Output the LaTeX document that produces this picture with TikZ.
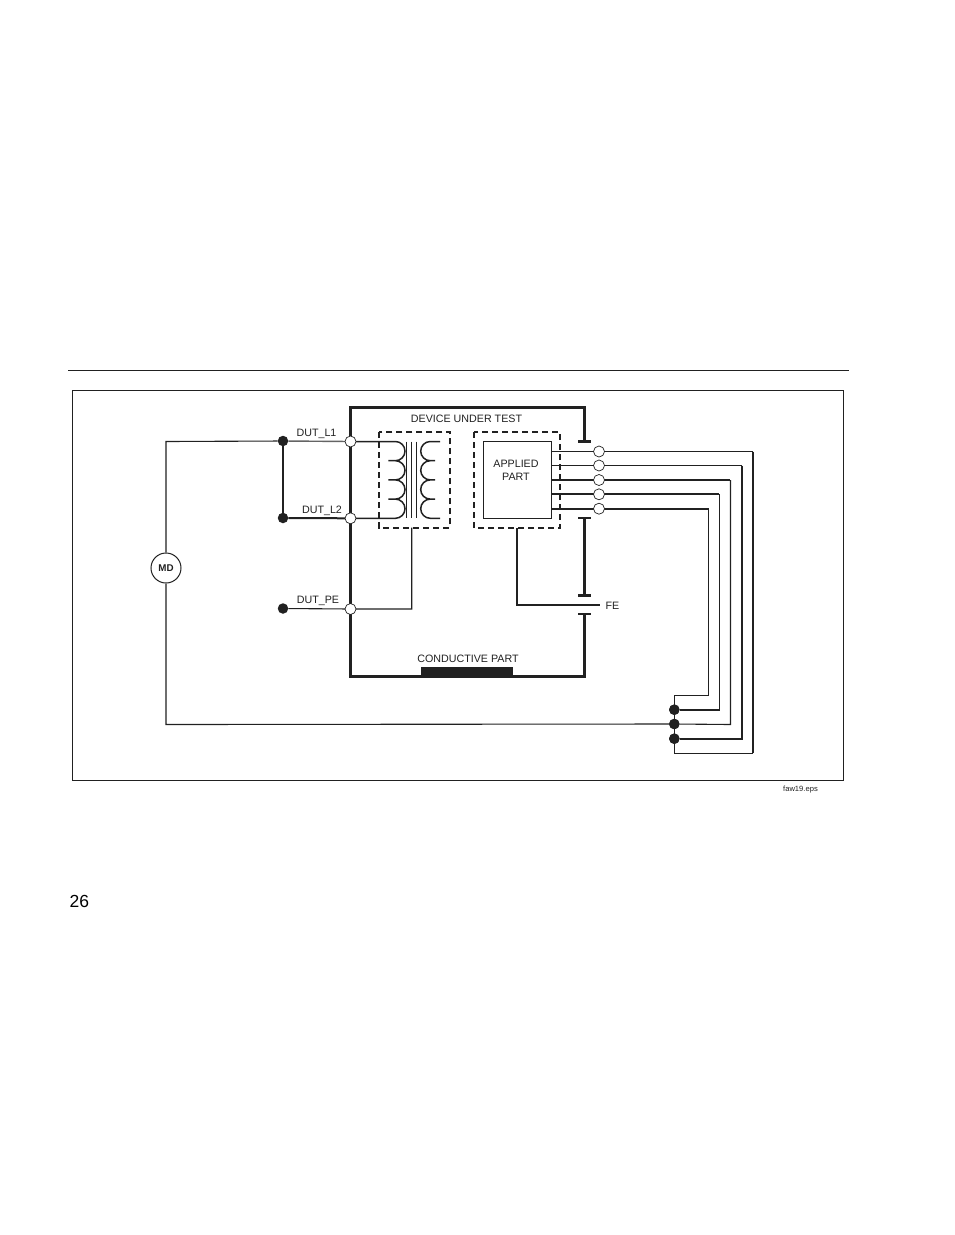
\documentclass[tikz,border=0pt]{standalone}
\usepackage{fontspec}
\setmainfont{Liberation Sans}
\definecolor{ink}{gray}{0.13}
\tikzset{
	lbl/.style={inner sep=0pt,text=ink,font=\fontsize{10.7}{12}\selectfont},
	thinw/.style={draw=ink,line width=1.1pt},
	midw/.style={draw=ink,line width=2pt},
	heavy/.style={draw=ink,line width=3pt},
	opent/.style={circle,draw=ink,fill=white,line width=.7pt,minimum size=11pt,inner sep=0pt},
	solidt/.style={circle,fill=ink,minimum size=10.5pt,inner sep=0pt},
	dashbox/.style={draw=ink,line width=2pt,dash pattern=on 6pt off 4pt}
}
\begin{document}
\begin{tikzpicture}[x=1pt,y=1pt,yscale=-1]
	\useasboundingbox (0,0) rectangle (954,1235);
	% page furniture
	\coordinate (ruleL) at (68,370.5);
	\coordinate (ruleR) at (849,370.5);
	\draw[ink,line width=.9pt] (ruleL) -- (ruleR);
	\draw[ink,line width=.8pt] (72.5,390.5) rectangle (843.5,780.5);
	\node[lbl,anchor=east,font=\fontsize{7.6}{9}\selectfont] (fname) at (818,789.5) {faw19.eps};
	\node[lbl,anchor=west,text=black,font=\fontsize{17.5}{20}\selectfont] (pageno) at (69.5,901.5) {26};
	% device outline
	\coordinate (capA) at (584.5,441.5);
	\coordinate (capB) at (584.5,518);
	\coordinate (capC) at (584.5,595.5);
	\coordinate (capD) at (584.5,614);
	\draw[heavy] (capA) -- (584.5,407.5) -- (350.5,407.5) -- (350.5,676) -- (584.5,676) -- (capD);
	\draw[heavy] (capB) -- (capC);
	\foreach \c in {capA,capB,capC,capD}
		\draw[midw,line width=2.5pt] (\c) ++(-6.5,0) -- ++(13,0);
	\fill[ink] (421,667) rectangle (513,676);
	% boxes
	\draw[dashbox] (379,432) rectangle (450,527.7);
	\draw[dashbox] (474,432) rectangle (560,528);
	\node[draw=ink,line width=1pt,minimum width=68pt,minimum height=77pt,inner sep=0pt] (applied) at (517,479.5) {};
	\node[lbl,align=center,font=\fontsize{10.7}{13}\selectfont] (appliedtxt) at (516,470) {APPLIED\\PART};
	% terminals
	\node[solidt] (sL1) at (283,441) {};
	\node[solidt] (sL2) at (283,518) {};
	\node[solidt] (sPE) at (283,608.5) {};
	\node[solidt] (bA) at (674.3,709.7) {};
	\node[solidt] (bB) at (674.3,724) {};
	\node[solidt] (bC) at (674.3,738.7) {};
	\node[circle,draw=ink,fill=white,line width=1pt,minimum size=30pt,inner sep=0pt,font=\fontsize{9.8}{11}\selectfont\bfseries,text=ink] (md) at (166,568) {MD};
	% left wiring
	\coordinate (tL1) at (350.5,441.5);
	\coordinate (tL2) at (350.5,518.3);
	\coordinate (tPE) at (350.5,609);
	\draw[thinw] (md) -- (166,441.5) -- (sL1);
	\draw[midw] (sL1) -- (sL2);
	\draw[draw=ink!70,line width=1.4pt] (sL1) -- (tL1);
	\draw[midw] (sL2) -- (tL2);
	\draw[thinw] (sPE) -- (tPE) -- (411.7,609) -- (411.7,527.7);
	\draw[thinw] (md) -- (166,724.5) -- (bB);
	% transformer
	\draw[thinw,line width=1.5pt] (tL1) -- (395.4,441.5) arc (-90:90:9.6pt)
		-- ++(-7,0) -- ++(7,0) arc (-90:90:9.6pt)
		-- ++(-7,0) -- ++(7,0) arc (-90:90:9.6pt)
		-- ++(-7,0) -- ++(7,0) arc (-90:90:9.6pt) -- (tL2);
	\draw[thinw,line width=1.5pt] (440,441.5) -- (430.3,441.5) arc (270:90:9.6pt)
		-- ++(4.7,0) -- ++(-4.7,0) arc (270:90:9.6pt)
		-- ++(4.7,0) -- ++(-4.7,0) arc (270:90:9.6pt)
		-- ++(4.7,0) -- ++(-4.7,0) arc (270:90:9.6pt) -- (440,518.3);
	\foreach \x in {406.7,411.7,416.7}
		\draw[thinw] (\x,441.7) -- (\x,518);
	% FE
	\node[lbl,anchor=west] (fe) at (605.5,606) {FE};
	\draw[midw] (516.7,528) -- (516.7,605) -- (599.7,605);
	% applied part leads
	\foreach \n/\y in {tA/451.5,tB/465.5,tC/480,tD/494.3,tE/508.7}
		\coordinate (\n) at (599,\y);
	\draw[thinw] (551,451.5) -- (tA) -- (753,451.5);
	\draw[midw] (753,451.5) -- (753,753);
	\draw[thinw] (753,753.5) -- (674.3,753.5) -- (674.3,695.5) -- (708.5,695.5);
	\draw[thinw] (551,465.5) -- (tB) -- (742,465.5);
	\draw[midw] (742,465.5) -- (742,738.7) -- (bC);
	\draw[midw] (551,480) -- (tC) -- (730,480);
	\draw[thinw] (730.5,480) -- (730.5,724.5) -- (bB);
	\draw[midw] (551,494.3) -- (tD) -- (719.3,494.3);
	\draw[thinw] (719.5,494.3) -- (719.5,709.7);
	\draw[midw] (719.5,709.7) -- (bA);
	\draw[midw] (551,508.7) -- (tE) -- (708.5,508.7);
	\draw[thinw] (708.5,508.7) -- (708.5,695.5);
	\foreach \n in {tA,tB,tC,tD,tE}
		\node[opent] at (\n) {};
	\node[solidt] at (bA) {};
	\node[solidt] at (bB) {};
	\node[solidt] at (bC) {};
	\node[opent] at (tL1) {};
	\node[opent] at (tL2) {};
	\node[opent] at (tPE) {};
	% labels
	\node[lbl] (dev) at (466.5,418.5) {DEVICE UNDER TEST};
	\node[lbl] (cond) at (468,658.5) {CONDUCTIVE PART};
	\node[lbl] (lA) at (316.5,434) {DUT\_L1};
	\node[lbl] (lB) at (322,511) {DUT\_L2};
	\node[lbl] (lC) at (318,601) {DUT\_PE};
\end{tikzpicture}
\end{document}
